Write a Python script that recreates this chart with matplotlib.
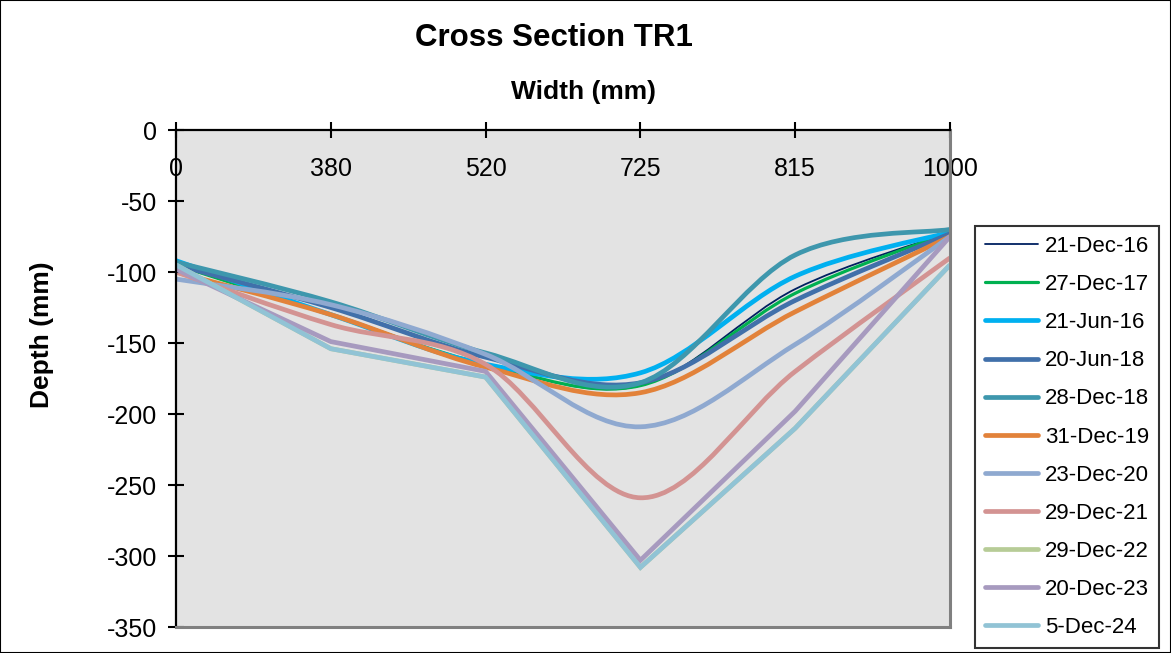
import numpy as np
import matplotlib
matplotlib.use('Agg')
import matplotlib.pyplot as plt
from matplotlib.path import Path
from matplotlib.patches import PathPatch, Rectangle
from matplotlib.lines import Line2D

plt.rcParams['font.family'] = ['Liberation Sans', 'DejaVu Sans']
plt.rcParams['axes.unicode_minus'] = False

# === Data ===
widths = ['0', '380', '520', '725', '815', '1000']

dates = ['21-Dec-16', '27-Dec-17', '21-Jun-16', '20-Jun-18', '28-Dec-18',
         '31-Dec-19', '23-Dec-20', '29-Dec-21', '29-Dec-22', '20-Dec-23',
         '5-Dec-24']

d_21dec16 = [-95, -130, -165, -180, -112, -72]
d_27dec17 = [-95, -130, -165, -180, -115, -72]
d_21jun16 = [-92, -130, -165, -171, -103, -72]
d_20jun18 = [-95, -125, -160, -178, -120, -73]
d_28dec18 = [-93, -121, -157, -178, -88, -70]
d_31dec19 = [-100, -130, -167, -185, -128, -75]
d_23dec20 = [-105, -123, -158, -209, -151, -75]
d_29dec21 = [-100, -137, -165, -259, -170, -90]
d_29dec22 = [-95, -154, -174, -308, -210, -95]
d_20dec23 = [-98, -149, -170, -303, -198, -75]
d_5dec24 = [-95, -154, -174, -308, -210, -95]

series = [d_21dec16, d_27dec17, d_21jun16, d_20jun18, d_28dec18, d_31dec19,
          d_23dec20, d_29dec21, d_29dec22, d_20dec23, d_5dec24]

colors = ['#002060', '#00B050', '#00B0F0', '#4170AA', '#3E97AD', '#E2823A',
          '#8FA9D0', '#D39392', '#B7CC97', '#A79ABF', '#91C3D5']
lws = [1.3, 2.3, 3.4, 3.4, 3.4, 3.4, 3.4, 3.4, 3.4, 3.4, 3.4]
smooth = [True, True, True, True, True, True, True, True, False, False, False]


def smooth_path(x, y):
    # Excel style smoothed line -> cubic bezier segments
    pts = np.column_stack([x, y]).astype(float)
    n = len(pts)
    verts = [pts[0]]
    codes = [Path.MOVETO]
    for i in range(n - 1):
        p0 = pts[max(i - 1, 0)]
        p1 = pts[i]
        p2 = pts[i + 1]
        p3 = pts[min(i + 2, n - 1)]
        c1 = p1 + (p2 - p0) / 6.0
        c2 = p2 - (p3 - p1) / 6.0
        verts += [c1, c2, p2]
        codes += [Path.CURVE4] * 3
    return Path(verts, codes)


fig = plt.figure(figsize=(11.71, 6.53), dpi=100)
ax = fig.add_axes([0.1503, 0.0398, 0.661, 0.7611])
ax.set_facecolor('#E3E3E3')

xpos = np.arange(len(widths))
for vals, c, lw, sm in zip(series, colors, lws, smooth):
    if sm:
        patch = PathPatch(smooth_path(xpos, vals), facecolor='none',
                          edgecolor=c, lw=lw, capstyle='butt',
                          joinstyle='round')
        ax.add_patch(patch)
    else:
        ax.plot(xpos, vals, color=c, lw=lw, solid_joinstyle='miter',
                solid_capstyle='butt')

ax.set_xlim(0, len(widths) - 1)
ax.set_ylim(-350, 0)
ax.set_yticks(np.arange(-350, 1, 50))
ax.set_xticks(xpos)
ax.set_xticklabels(widths)

ax.tick_params(axis='x', top=True, bottom=False, labeltop=True,
               labelbottom=False, direction='inout', length=11, width=1.5,
               labelsize=18, pad=-25)
ax.tick_params(axis='y', direction='inout', length=11, width=1.5,
               labelsize=18, pad=8)
for t in ax.xaxis.get_major_ticks():
    t.label2.set_va('top')

for s in ['top', 'left']:
    ax.spines[s].set_color('black')
    ax.spines[s].set_linewidth(1.6)
for s in ['right', 'bottom']:
    ax.spines[s].set_color('#808080')
    ax.spines[s].set_linewidth(2.2)

ax.xaxis.set_label_position('top')
ax.set_xlabel('Width (mm)', fontsize=19, fontweight='bold')
ax.xaxis.set_label_coords(0.526, 1.076)
ax.xaxis.label.set_va('center')
ax.set_ylabel('Depth (mm)', fontsize=19, fontweight='bold')
ax.yaxis.set_label_coords(-0.173, 0.588)
ax.yaxis.label.set_va('center')

fig.text(554 / 1171, 1 - 38 / 653, 'Cross Section TR1', fontsize=22.5,
         fontweight='bold', ha='center', va='center')

handles = [Line2D([], [], color=c, lw=lw, solid_capstyle='round')
           for c, lw in zip(colors, lws)]
leg = fig.legend(handles, dates, loc='upper left',
                 bbox_to_anchor=(975 / 1171, 1 - 226 / 653),
                 fontsize=16, frameon=True, fancybox=False,
                 handlelength=2.4, handletextpad=0.3, labelspacing=0.77,
                 borderpad=0.45, borderaxespad=0)
leg.get_frame().set_edgecolor('black')
leg.get_frame().set_linewidth(1.5)

fig.patches.append(Rectangle((0, 0), 1, 1, transform=fig.transFigure,
                             fill=False, edgecolor='black', lw=1.5))

plt.savefig('out.png', dpi=100)
